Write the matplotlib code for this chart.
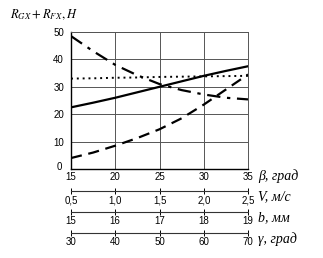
import matplotlib
matplotlib.use("Agg")
import matplotlib.pyplot as plt
import matplotlib.transforms as mtransforms
import numpy as np

plt.rcParams['mathtext.fontset'] = 'stix'

beta = [15, 17.5, 20, 22.5, 25, 27.5, 30, 32.5, 35]
solid = [22.5, 24.2, 26.0, 28.0, 30.0, 32.0, 34.0, 35.8, 37.5]
dotted = [33.0, 33.1, 33.3, 33.4, 33.6, 33.7, 33.8, 33.9, 34.0]
dashdot = [48.5, 43.0, 38.0, 34.2, 31.0, 28.8, 27.2, 26.0, 25.4]
dashed = [4.0, 6.0, 8.5, 11.3, 14.5, 18.5, 23.5, 29.0, 34.5]

beta_ticks = [15, 20, 25, 30, 35]
v_ticks = ['0,5', '1,0', '1,5', '2,0', '2,5']
b_ticks = ['15', '16', '17', '18', '19']
g_ticks = ['30', '40', '50', '60', '70']
y_ticks = [0, 10, 20, 30, 40, 50]

W, H = 323, 258
fig = plt.figure(figsize=(W/100, H/100), dpi=100)
x0, x1 = 71, 248
yb, yt = 169, 32
ax = fig.add_axes([x0/W, (H-yb)/H, (x1-x0)/W, (yb-yt)/H])
ax.plot(beta, solid, color='black', lw=1.6, ls='-')
ax.plot(beta, dotted, color='black', lw=1.4, ls=(0, (1, 2)))
ax.plot(beta, dashdot, color='black', lw=1.6, ls=(0, (6, 3, 1.5, 3)))
ax.plot(beta, dashed, color='black', lw=1.6, ls=(0, (5, 3)))
ax.set_xlim(15, 35)
ax.set_ylim(0, 50)
ax.set_xticks(beta_ticks)
ax.set_yticks(y_ticks)
ax.grid(True, color='#555555', lw=0.7)
for s in ['top', 'right']:
    ax.spines[s].set_color('#555555')
    ax.spines[s].set_linewidth(0.7)
for s in ['left', 'bottom']:
    ax.spines[s].set_color('black')
    ax.spines[s].set_linewidth(1.0)
ax.tick_params(axis='x', length=0, labelsize=7, pad=2)
ax.tick_params(axis='y', length=0, labelsize=7, pad=5)
for lab in ax.get_xticklabels() + ax.get_yticklabels():
    lab.set_family('Liberation Sans')
# raise the "0" label slightly so it clears the "15" label
zero = ax.get_yticklabels()[0]
zero.set_transform(zero.get_transform() + mtransforms.ScaledTranslation(-2/100, 3/100, fig.dpi_scale_trans))

serif = dict(family='Liberation Serif', style='italic', fontsize=10)
fig.text(258/W, 1-176/H, 'β, град', va='center', ha='left', **serif)
fig.text(10/W, 1-15/H, r'$R_{GX}+R_{FX},H$', va='center', ha='left', fontsize=9)

extra = [(191, v_ticks, 'V, м/с'), (212, b_ticks, 'b, мм'), (233, g_ticks, 'γ, град')]
for yy, labs, name in extra:
    a = fig.add_axes([x0/W, (H-yy)/H, (x1-x0)/W, 0.001])
    a.set_xlim(0, 4)
    a.set_ylim(0, 1)
    for s in ['top', 'right', 'left']:
        a.spines[s].set_visible(False)
    a.spines['bottom'].set_color('#333333')
    a.spines['bottom'].set_linewidth(0.8)
    a.set_yticks([])
    a.set_xticks(range(5))
    a.set_xticklabels(labs)
    a.tick_params(axis='x', direction='inout', length=4, width=0.7, labelsize=7, pad=1)
    for lab in a.get_xticklabels():
        lab.set_family('Liberation Sans')
    fig.text(258/W, 1-(yy+6)/H, name, va='center', ha='left', **serif)

fig.savefig('out.png', dpi=100)
